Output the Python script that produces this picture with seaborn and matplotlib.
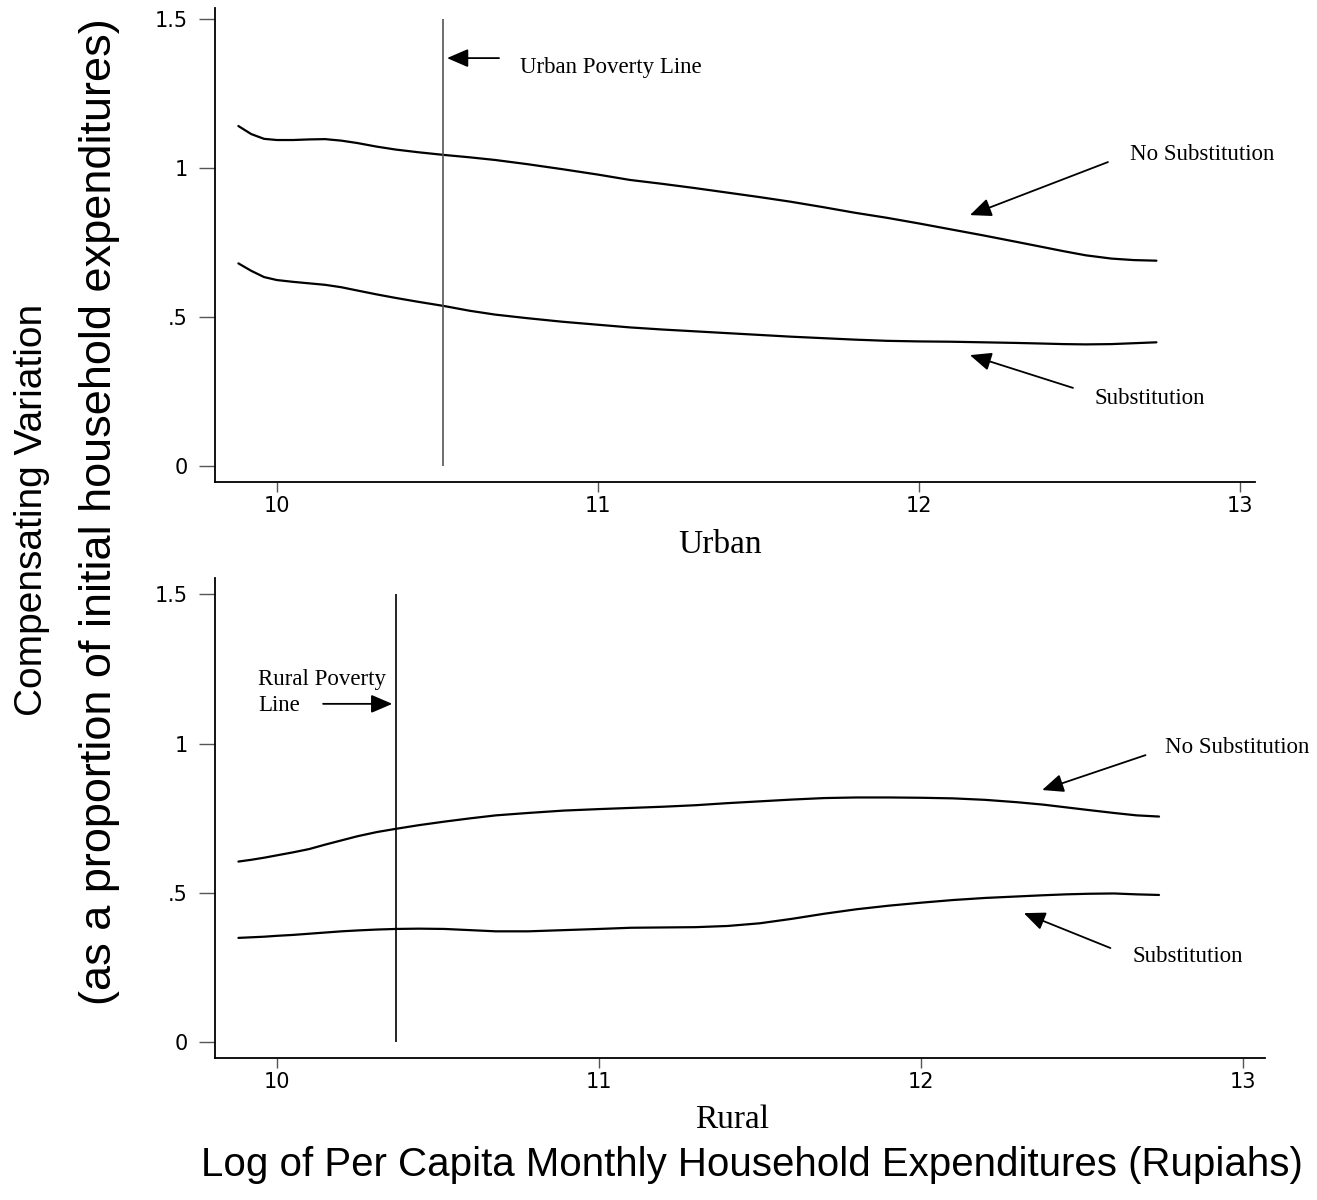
import matplotlib
matplotlib.use("Agg")
import matplotlib.pyplot as plt
import seaborn as sns
import pandas as pd

# log per capita expenditure grid
log_exp = [9.88, 9.92, 9.96, 10.00, 10.05, 10.10, 10.15, 10.20, 10.25, 10.31,
           10.37, 10.44, 10.52, 10.60, 10.68, 10.78, 10.89, 11.00, 11.10, 11.20,
           11.30, 11.40, 11.50, 11.60, 11.70, 11.80, 11.90, 12.00, 12.10, 12.20,
           12.30, 12.38, 12.45, 12.52, 12.60, 12.67, 12.74]

urban_no_sub = [1.141, 1.114, 1.098, 1.094, 1.094, 1.096, 1.097, 1.092, 1.084, 1.072,
                1.062, 1.053, 1.044, 1.036, 1.027, 1.013, 0.996, 0.978, 0.960, 0.947,
                0.933, 0.918, 0.903, 0.887, 0.869, 0.850, 0.833, 0.814, 0.794, 0.774,
                0.753, 0.736, 0.721, 0.707, 0.696, 0.691, 0.689]
urban_sub = [0.680, 0.655, 0.634, 0.624, 0.618, 0.613, 0.608, 0.600, 0.589, 0.576,
             0.564, 0.551, 0.537, 0.521, 0.508, 0.496, 0.484, 0.474, 0.465, 0.458,
             0.452, 0.446, 0.440, 0.434, 0.429, 0.424, 0.420, 0.418, 0.417, 0.415,
             0.413, 0.411, 0.409, 0.408, 0.409, 0.412, 0.415]
rural_no_sub = [0.604, 0.610, 0.617, 0.625, 0.635, 0.646, 0.661, 0.675, 0.689, 0.703,
                0.714, 0.726, 0.738, 0.749, 0.759, 0.767, 0.775, 0.780, 0.784, 0.788,
                0.793, 0.800, 0.806, 0.812, 0.817, 0.819, 0.819, 0.818, 0.816, 0.811,
                0.803, 0.795, 0.786, 0.777, 0.767, 0.759, 0.755]
rural_sub = [0.348, 0.350, 0.352, 0.355, 0.358, 0.362, 0.366, 0.370, 0.373, 0.376,
             0.378, 0.379, 0.378, 0.374, 0.370, 0.370, 0.374, 0.378, 0.382, 0.383,
             0.384, 0.388, 0.397, 0.412, 0.429, 0.444, 0.456, 0.466, 0.475, 0.482,
             0.487, 0.491, 0.494, 0.496, 0.497, 0.494, 0.492]

urban_poverty_line = 10.517
rural_poverty_line = 10.371

y_ticks = [0, 0.5, 1, 1.5]
y_tick_labels = ["0", ".5", "1", "1.5"]
x_ticks = [10, 11, 12, 13]
x_tick_labels = ["10", "11", "12", "13"]

sns.set_style("ticks")
plt.rcParams["font.family"] = ["Liberation Sans", "DejaVu Sans"]
plt.rcParams["text.color"] = "black"
plt.rcParams["xtick.labelcolor"] = "black"
plt.rcParams["ytick.labelcolor"] = "black"

fig = plt.figure(figsize=(13.17, 12), dpi=100)
ax_u = fig.add_axes([0.1632, 0.5983, 0.7897, 0.395])
ax_r = fig.add_axes([0.1632, 0.1183, 0.797, 0.40])

serif = ["Liberation Serif", "DejaVu Serif"]
note_size = 16.5


def arrow(ax, head, tail):
    ax.annotate("", xy=head, xytext=tail,
                arrowprops=dict(arrowstyle="-|>,head_length=0.65,head_width=0.28",
                                color="black", lw=1.3, mutation_scale=20,
                                shrinkA=0, shrinkB=0))


def style_axis(ax, xlim, ylim):
    ax.set_xlim(*xlim)
    ax.set_ylim(*ylim)
    ax.set_xticks(x_ticks)
    ax.set_xticklabels(x_tick_labels)
    ax.set_yticks(y_ticks)
    ax.set_yticklabels(y_tick_labels)
    sns.despine(ax=ax)
    for sp in ["left", "bottom"]:
        ax.spines[sp].set_color("black")
        ax.spines[sp].set_linewidth(1.3)
    ax.tick_params(axis="y", length=11.5, width=1.0, color="#555555", pad=8,
                   labelsize=15, labelcolor="black")
    ax.tick_params(axis="x", length=7, width=1.0, color="#555555", pad=3,
                   labelsize=15, labelcolor="black")
    for lab in ax.get_xticklabels() + ax.get_yticklabels():
        lab.set_family(["DejaVu Sans"])
    ax.set_xlabel("")
    ax.set_ylabel("")


# ---------- Urban ----------
df_u = pd.DataFrame({"x": log_exp, "nosub": urban_no_sub, "sub": urban_sub})
sns.lineplot(data=df_u, x="x", y="nosub", color="black", lw=1.6, ax=ax_u)
sns.lineplot(data=df_u, x="x", y="sub", color="black", lw=1.6, ax=ax_u)
ax_u.vlines(urban_poverty_line, 0, 1.5, color="#555555", lw=1.2)
style_axis(ax_u, (9.807, 13.047), (-0.054, 1.537))

arrow(ax_u, (10.530, 1.369), (10.692, 1.369))
ax_u.text(10.757, 1.339, "Urban Poverty Line", family=serif, fontsize=note_size,
          ha="left", va="center")
arrow(ax_u, (12.159, 0.842), (12.589, 1.020))
ax_u.text(12.657, 1.044, "No Substitution", family=serif, fontsize=note_size,
          ha="left", va="center")
arrow(ax_u, (12.159, 0.372), (12.480, 0.262))
ax_u.text(12.548, 0.228, "Substitution", family=serif, fontsize=note_size,
          ha="left", va="center")

# ---------- Rural ----------
df_r = pd.DataFrame({"x": log_exp, "nosub": rural_no_sub, "sub": rural_sub})
sns.lineplot(data=df_r, x="x", y="nosub", color="black", lw=1.6, ax=ax_r)
sns.lineplot(data=df_r, x="x", y="sub", color="black", lw=1.6, ax=ax_r)
ax_r.vlines(rural_poverty_line, 0, 1.5, color="black", lw=1.2)
style_axis(ax_r, (9.807, 13.068), (-0.055, 1.555))

arrow(ax_r, (10.358, 1.133), (10.143, 1.133))
ax_r.text(9.941, 1.172, "Rural Poverty\nLine", family=serif, fontsize=note_size,
          ha="left", va="center", linespacing=1.3)
arrow(ax_r, (12.377, 0.844), (12.698, 0.961))
ax_r.text(12.760, 0.985, "No Substitution", family=serif, fontsize=note_size,
          ha="left", va="center")
arrow(ax_r, (12.320, 0.431), (12.589, 0.314))
ax_r.text(12.657, 0.287, "Substitution", family=serif, fontsize=note_size,
          ha="left", va="center")

# ---------- labels ----------
fig.text(0.547, 0.546, "Urban", family=serif, fontsize=24, ha="center", va="center")
fig.text(0.556, 0.0667, "Rural", family=serif, fontsize=24, ha="center", va="center")
fig.text(0.571, 0.029, "Log of Per Capita Monthly Household Expenditures (Rupiahs)",
         fontsize=29, ha="center", va="center")
fig.text(0.0243, 0.575, "Compensating Variation", fontsize=28, rotation=90,
         ha="center", va="center")
fig.text(0.0755, 0.574, "(as a proportion of initial household expenditures)",
         fontsize=32.5, rotation=90, ha="center", va="center")

fig.savefig("out.png", dpi=100, facecolor="white")
